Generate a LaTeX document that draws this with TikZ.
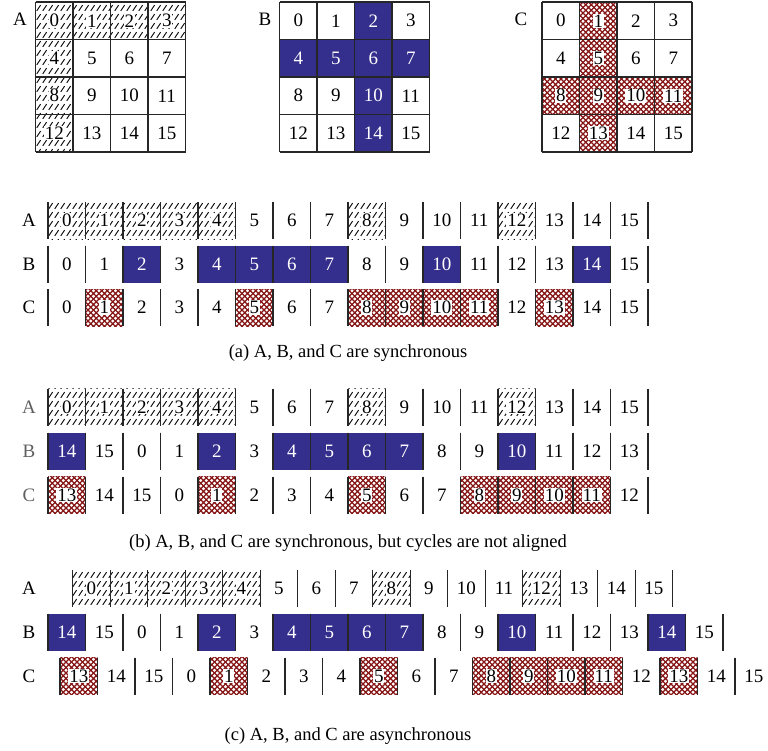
\documentclass[tikz,border=0pt]{standalone}
\usepackage{fontspec}
\setmainfont{Liberation Serif}
\usetikzlibrary{patterns}
\definecolor{bblue}{RGB}{52,46,140}
\definecolor{cred}{RGB}{135,22,22}
\definecolor{lgray}{RGB}{95,95,95}
\pgfdeclarepatternformonly{hatchA}{\pgfpoint{-1pt}{-1pt}}{\pgfpoint{7pt}{10pt}}{\pgfpoint{6pt}{9pt}}{%
  \pgfsetlinewidth{0.9pt}\pgfpathmoveto{\pgfpoint{0.8pt}{1.2pt}}\pgfpathlineto{\pgfpoint{4.6pt}{6.9pt}}\pgfusepath{stroke}}
\pgfdeclarepatternformonly{redx}{\pgfpoint{-1pt}{-1pt}}{\pgfpoint{7pt}{7pt}}{\pgfpoint{5.5pt}{5.5pt}}{%
  \pgfsetlinewidth{1.25pt}\pgfpathmoveto{\pgfpoint{-0.5pt}{-0.5pt}}\pgfpathlineto{\pgfpoint{6pt}{6pt}}%
  \pgfpathmoveto{\pgfpoint{-0.5pt}{6pt}}\pgfpathlineto{\pgfpoint{6pt}{-0.5pt}}\pgfusepath{stroke}}
\newif\ifhit
\makeatletter
\newcommand\testmember[2]{\edef\mb@tmp{\noexpand\in@{,#1,}{,#2,}}\mb@tmp\ifin@\hittrue\else\hitfalse\fi}
\makeatother
\newcommand\setA{0,1,2,3,4,8,12}
\newcommand\setB{2,4,5,6,7,10,14}
\newcommand\setC{1,5,8,9,10,11,13}
\tikzset{
  fillA/.style={pattern=hatchA, pattern color=black},
  fillB/.style={fill=bblue},
  fillC/.style={pattern=redx, pattern color=cred},
  num/.style={inner sep=0pt},
  numA/.style={fill=white, inner sep=0.8pt},
  numB/.style={text=white, inner sep=0pt},
  numC/.style={fill=white, inner sep=0.8pt},
  bar/.style={line width=1.3pt, black!85},
  gridline/.style={line width=1.1pt, black!85},
  lab/.style={inner sep=0pt},
  captext/.style={inner sep=0pt, font=\fontsize{18.5}{22}\selectfont},
}
% row of cells: #1 prefix, #2 kind, #3 x0, #4 ytop, #5 values, #6 set
\newcommand\cellrow[6]{%
  \foreach \v [count=\k from 0] in {#5}{%
    \pgfmathsetmacro\xa{#3+\k*37.5}%
    \pgfmathsetmacro\xb{\xa+37.5}%
    \pgfmathsetmacro\xm{\xa+18.75}%
    \testmember{\v}{#6}%
    \ifhit
      \fill[fill#2] (\xa,#4) rectangle (\xb,#4+37);
      \node[num#2] (#1-\k) at (\xm,#4+18.5) {\v};
    \else
      \node[num] (#1-\k) at (\xm,#4+18.5) {\v};
    \fi
    \draw[bar] (\xa,#4) -- (\xa,#4+37);
    \draw[bar] (\xb,#4) -- (\xb,#4+37);
  }}
% 4x4 grid: #1 prefix, #2 kind, #3 x0, #4 set
\newcommand\topgrid[4]{%
  \foreach \v in {0,...,15}{%
    \pgfmathtruncatemacro\cc{mod(\v,4)}%
    \pgfmathtruncatemacro\rr{int(\v/4)}%
    \pgfmathsetmacro\xa{#3+\cc*37.5}%
    \pgfmathsetmacro\ya{2+\rr*37.5}%
    \testmember{\v}{#4}%
    \ifhit
      \fill[fill#2] (\xa,\ya) rectangle (\xa+37.5,\ya+37.5);
      \node[num#2] (#1-\v) at (\xa+18.75,\ya+18.75) {\v};
    \else
      \node[num] (#1-\v) at (\xa+18.75,\ya+18.75) {\v};
    \fi
  }
  \foreach \i in {0,...,4}{%
    \draw[gridline] (#3+\i*37.5,2) -- (#3+\i*37.5,152);
    \draw[gridline] (#3,2+\i*37.5) -- (#3+150,2+\i*37.5);
  }}
\begin{document}
\begin{tikzpicture}[x=1pt,y=-1pt,font=\fontsize{19}{22}\selectfont]
\useasboundingbox (0,0) rectangle (768,750);
\clip (0,0) rectangle (768,750);
% top grids
\topgrid{gA}{A}{35.5}{\setA}
\topgrid{gB}{B}{279.5}{\setB}
\topgrid{gC}{C}{542}{\setC}
\node[lab] (tA) at (20,19) {A};
\node[lab] (tB) at (265,19) {B};
\node[lab] (tC) at (521,19) {C};
% (a)
\node[lab] (aA) at (29,220.5) {A};
\node[lab] (aB) at (29,264) {B};
\node[lab] (aC) at (29,307.5) {C};
\cellrow{aRA}{A}{48}{202}{0,1,2,3,4,5,6,7,8,9,10,11,12,13,14,15}{\setA}
\cellrow{aRB}{B}{48}{245.5}{0,1,2,3,4,5,6,7,8,9,10,11,12,13,14,15}{\setB}
\cellrow{aRC}{C}{48}{289}{0,1,2,3,4,5,6,7,8,9,10,11,12,13,14,15}{\setC}
\node[captext] (capa) at (348,353) {(a) A, B, and C are synchronous};
% (b)
\node[lab,text=lgray] (bA) at (29,407) {A};
\node[lab,text=lgray] (bB) at (29,451) {B};
\node[lab,text=lgray] (bC) at (29,495) {C};
\cellrow{bRA}{A}{48}{388.5}{0,1,2,3,4,5,6,7,8,9,10,11,12,13,14,15}{\setA}
\cellrow{bRB}{B}{48}{432.5}{14,15,0,1,2,3,4,5,6,7,8,9,10,11,12,13}{\setB}
\cellrow{bRC}{C}{48}{476.5}{13,14,15,0,1,2,3,4,5,6,7,8,9,10,11,12}{\setC}
\node[captext] (capb) at (348,543) {(b) A, B, and C are synchronous, but cycles are not aligned};
% (c)
\node[lab] (cA) at (29,588.5) {A};
\node[lab] (cB) at (29,632) {B};
\node[lab] (cC) at (29,676) {C};
\cellrow{cRA}{A}{72.7}{570}{0,1,2,3,4,5,6,7,8,9,10,11,12,13,14,15}{\setA}
\cellrow{cRB}{B}{48}{613.5}{14,15,0,1,2,3,4,5,6,7,8,9,10,11,12,13,14,15}{\setB}
\cellrow{cRC}{C}{60}{657.5}{13,14,15,0,1,2,3,4,5,6,7,8,9,10,11,12,13,14,15}{\setC}
\node[captext] (capc) at (348,736) {(c) A, B, and C are asynchronous};
\end{tikzpicture}
\end{document}
